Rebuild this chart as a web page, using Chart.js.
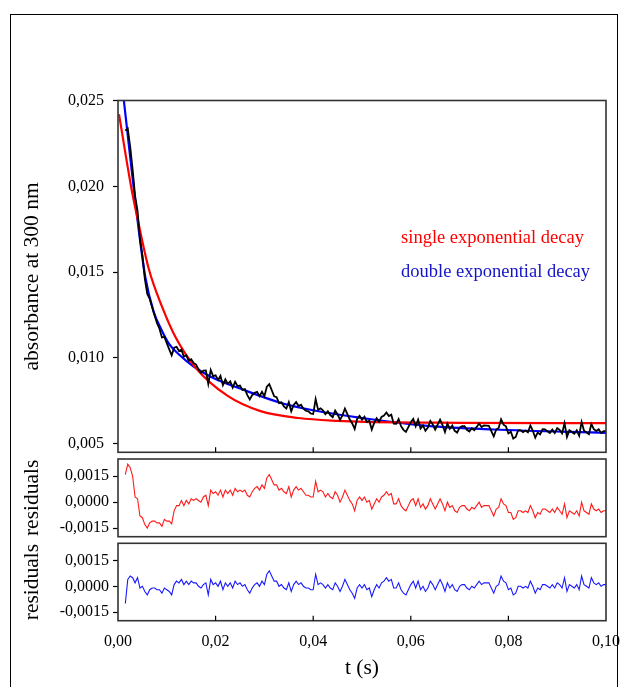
<!DOCTYPE html>
<html>
<head>
<meta charset="utf-8">
<script src="https://cdn.jsdelivr.net/npm/chart.js@4.4.1/dist/chart.umd.min.js"></script>
<style>
  html, body { margin: 0; padding: 0; background: #fff; }
  #figure { position: relative; width: 622px; height: 687px; overflow: hidden; }
  #frame { position: absolute; left: 10px; top: 14px; width: 606px; height: 700px; border: 1px solid #000; }
  canvas { position: absolute; left: 0; top: 0; }
</style>
</head>
<body>
<div id="figure">
  <div id="frame"></div>
  <canvas id="main" width="622" height="687"></canvas>
  <canvas id="res1" width="622" height="687"></canvas>
  <canvas id="res2" width="622" height="687"></canvas>
</div>
<script>
// measured trace (s, absorbance)
const time = [
  0.0015, 0.002, 0.0025, 0.003, 0.0035, 0.004, 0.0045, 0.005, 0.0055, 0.006,
  0.0065, 0.007, 0.0075, 0.008, 0.0085, 0.009, 0.0095, 0.01, 0.0105, 0.011,
  0.0115, 0.012, 0.0125, 0.013, 0.0135, 0.014, 0.0145, 0.015, 0.0155, 0.016,
  0.0165, 0.017, 0.0175, 0.018, 0.0185, 0.019, 0.0195, 0.02, 0.0205, 0.021,
  0.0215, 0.022, 0.0225, 0.023, 0.0235, 0.024, 0.0245, 0.025, 0.0255, 0.026,
  0.0265, 0.027, 0.0275, 0.028, 0.0285, 0.029, 0.0295, 0.03, 0.0305, 0.031,
  0.0315, 0.032, 0.0325, 0.033, 0.0335, 0.034, 0.0345, 0.035, 0.0355, 0.036,
  0.0365, 0.037, 0.0375, 0.038, 0.0385, 0.039, 0.0395, 0.04, 0.0405, 0.041,
  0.0415, 0.042, 0.0425, 0.043, 0.0435, 0.044, 0.0445, 0.045, 0.0455, 0.046,
  0.0465, 0.047, 0.0475, 0.048, 0.0485, 0.049, 0.0495, 0.05, 0.0505, 0.051,
  0.0515, 0.052, 0.0525, 0.053, 0.0535, 0.054, 0.0545, 0.055, 0.0555, 0.056,
  0.0565, 0.057, 0.0575, 0.058, 0.0585, 0.059, 0.0595, 0.06, 0.0605, 0.061,
  0.0615, 0.062, 0.0625, 0.063, 0.0635, 0.064, 0.0645, 0.065, 0.0655, 0.066,
  0.0665, 0.067, 0.0675, 0.068, 0.0685, 0.069, 0.0695, 0.07, 0.0705, 0.071,
  0.0715, 0.072, 0.0725, 0.073, 0.0735, 0.074, 0.0745, 0.075, 0.0755, 0.076,
  0.0765, 0.077, 0.0775, 0.078, 0.0785, 0.079, 0.0795, 0.08, 0.0805, 0.081,
  0.0815, 0.082, 0.0825, 0.083, 0.0835, 0.084, 0.0845, 0.085, 0.0855, 0.086,
  0.0865, 0.087, 0.0875, 0.088, 0.0885, 0.089, 0.0895, 0.09, 0.0905, 0.091,
  0.0915, 0.092, 0.0925, 0.093, 0.0935, 0.094, 0.0945, 0.095, 0.0955, 0.096,
  0.0965, 0.097, 0.0975, 0.098, 0.0985, 0.099, 0.0995, 0.1,
]
const absorbance = [
  0.02324, 0.02337, 0.0223, 0.02097, 0.01944, 0.01858, 0.01693, 0.01597, 0.01461, 0.01373,
  0.01344, 0.01295, 0.01247, 0.01203, 0.0117, 0.01119, 0.01123, 0.01086, 0.0105, 0.01015,
  0.0106, 0.01065, 0.0104, 0.01048, 0.01007, 0.01015, 0.00983, 0.00992, 0.0097, 0.00961,
  0.00933, 0.00914, 0.00926, 0.00927, 0.00849, 0.0093, 0.00894, 0.00898, 0.00872, 0.00896,
  0.00841, 0.00875, 0.00849, 0.00863, 0.00827, 0.00861, 0.00835, 0.00839, 0.00814, 0.00818,
  0.00783, 0.00758, 0.00783, 0.00797, 0.00802, 0.00777, 0.00802, 0.00777, 0.00832, 0.00847,
  0.00812, 0.00776, 0.00771, 0.00736, 0.00741, 0.00718, 0.00705, 0.00742, 0.00689, 0.00726,
  0.00743, 0.0072, 0.00727, 0.00704, 0.00692, 0.00689, 0.00676, 0.00673, 0.0076, 0.00698,
  0.00706, 0.00694, 0.00672, 0.00689, 0.00667, 0.00655, 0.00693, 0.00671, 0.00639, 0.00667,
  0.00705, 0.00673, 0.00641, 0.00618, 0.00586, 0.00644, 0.00662, 0.0064, 0.00658, 0.00626,
  0.00634, 0.00583, 0.00621, 0.00649, 0.00628, 0.00656, 0.00664, 0.00682, 0.00661, 0.00669,
  0.00617, 0.00616, 0.00644, 0.00602, 0.00581, 0.00569, 0.00597, 0.00625, 0.00644, 0.00602,
  0.0064, 0.00589, 0.00607, 0.00575, 0.00594, 0.00633, 0.00612, 0.00582, 0.00611, 0.0064,
  0.00609, 0.00568, 0.00618, 0.00587, 0.00606, 0.00575, 0.00565, 0.00594, 0.00603, 0.00602,
  0.00581, 0.00571, 0.0059, 0.00579, 0.00598, 0.00618, 0.00597, 0.00606, 0.00605, 0.00604,
  0.00574, 0.00543, 0.00583, 0.00592, 0.00642, 0.00611, 0.00601, 0.0056, 0.0057, 0.0053,
  0.00539, 0.00579, 0.00578, 0.00568, 0.00577, 0.00567, 0.00606, 0.00576, 0.00535, 0.00565,
  0.00554, 0.00584, 0.00583, 0.00573, 0.00563, 0.00582, 0.00562, 0.00591, 0.00581, 0.0056,
  0.0062, 0.00539, 0.00579, 0.00568, 0.00558, 0.00578, 0.00547, 0.00627, 0.00576, 0.00566,
  0.00555, 0.00615, 0.00585, 0.00574, 0.00584, 0.00563, 0.00573, 0.00573,
]
// residuals of the single exponential fit
const singleResidual = [
  0.0016, 0.0022, 0.002, 0.0015, 0.0003, 0.0002, -0.0008, -0.0009, -0.0013, -0.0015,
  -0.0012, -0.0011, -0.0011, -0.0012, -0.0012, -0.0014, -0.001, -0.0011, -0.0011, -0.00125,
  -0.0005, -0.0002, -0.0002, 0.0001, -0.0002, 0.0001, -0.0001, 0.0002, 0.0001, 0.0002,
  0.0001, 0, 0.0003, 0.0004, -0.0002, 0.0007, 0.0005, 0.0006, 0.0004, 0.0007,
  0.0003, 0.0007, 0.0005, 0.0007, 0.0004, 0.0008, 0.0006, 0.0007, 0.0006, 0.0007,
  0.0004, 0.0003, 0.0006, 0.0008, 0.0009, 0.0007, 0.001, 0.0008, 0.0014, 0.0016,
  0.0013, 0.001, 0.001, 0.0007, 0.0008, 0.0006, 0.0005, 0.0009, 0.0003, 0.0007,
  0.0009, 0.0007, 0.0008, 0.0006, 0.0004, 0.0004, 0.0003, 0.0003, 0.0012, 0.0006,
  0.0007, 0.0006, 0.0003, 0.0005, 0.0003, 0.0002, 0.0006, 0.0004, 0, 0.0003,
  0.0007, 0.0004, 0.0001, -0.0001, -0.0005, 0.0001, 0.0003, 0.0001, 0.0003, 0,
  0.0001, -0.0004, -0.0001, 0.0002, 0, 0.0003, 0.0004, 0.0006, 0.0004, 0.0005,
  -0.0001, -0.0001, 0.0002, -0.0002, -0.0004, -0.0005, -0.0002, 0.0001, 0.0002, -0.0002,
  0.0002, -0.0003, -0.0001, -0.0004, -0.0002, 0.0002, -0.0001, -0.0004, -0.0001, 0.0002,
  -0.0001, -0.0005, 0, -0.0003, -0.0002, -0.0005, -0.0006, -0.0003, -0.0002, -0.0002,
  -0.0004, -0.0005, -0.0003, -0.0004, -0.0002, 0, -0.0003, -0.0002, -0.0002, -0.0002,
  -0.0005, -0.0008, -0.0004, -0.0003, 0.0002, -0.0001, -0.0002, -0.0006, -0.0006, -0.001,
  -0.0009, -0.0005, -0.0005, -0.0006, -0.0005, -0.0006, -0.0002, -0.0005, -0.0009, -0.0006,
  -0.0007, -0.0004, -0.0004, -0.0005, -0.0006, -0.0004, -0.0006, -0.0003, -0.0005, -0.0007,
  -0.0001, -0.0009, -0.0005, -0.0006, -0.0007, -0.0005, -0.0008, 0, -0.0005, -0.0006,
  -0.0007, -0.0001, -0.0004, -0.0005, -0.0004, -0.0006, -0.0005, -0.0005,
]
// residuals of the double exponential fit
const doubleResidual = [
  -0.001, 0.0004, 0.0006, 0.0005, 0.0002, 0.0005, -0.0001, 0, -0.0003, -0.0005,
  -0.0002, -0.0001, -0.0001, -0.0002, -0.0002, -0.0004, -0.0001, -0.0002, -0.0003, -0.0005,
  0.0001, 0.0003, 0.0002, 0.0004, 0.0001, 0.0003, 0.0001, 0.0003, 0.0002, 0.0002,
  0, -0.0001, 0.0001, 0.0002, -0.0005, 0.0004, 0.0001, 0.0002, 0, 0.0003,
  -0.0002, 0.0002, 0, 0.0002, -0.0001, 0.0003, 0.0001, 0.0002, 0, 0.0001,
  -0.0002, -0.0004, -0.0001, 0.0001, 0.0002, 0, 0.0003, 0.0001, 0.0007, 0.0009,
  0.0006, 0.0003, 0.0003, 0, 0.0001, -0.0001, -0.0002, 0.0002, -0.0003, 0.0001,
  0.0003, 0.0001, 0.0002, 0, -0.0001, -0.0001, -0.0002, -0.0002, 0.0007, 0.0001,
  0.0002, 0.0001, -0.0001, 0.0001, -0.0001, -0.0002, 0.0002, 0, -0.0003, 0,
  0.0004, 0.0001, -0.0002, -0.0004, -0.0007, -0.0001, 0.0001, -0.0001, 0.0001, -0.0002,
  -0.0001, -0.0006, -0.0002, 0.0001, -0.0001, 0.0002, 0.0003, 0.0005, 0.0003, 0.0004,
  -0.0001, -0.0001, 0.0002, -0.0002, -0.0004, -0.0005, -0.0002, 0.0001, 0.0003, -0.0001,
  0.0003, -0.0002, 0, -0.0003, -0.0001, 0.0003, 0.0001, -0.0002, 0.0001, 0.0004,
  0.0001, -0.0003, 0.0002, -0.0001, 0.0001, -0.0002, -0.0003, 0, 0.0001, 0.0001,
  -0.0001, -0.0002, 0, -0.0001, 0.0001, 0.0003, 0.0001, 0.0002, 0.0002, 0.0002,
  -0.0001, -0.0004, 0, 0.0001, 0.0006, 0.0003, 0.0002, -0.0002, -0.0001, -0.0005,
  -0.0004, 0, 0, -0.0001, 0, -0.0001, 0.0003, 0, -0.0004, -0.0001,
  -0.0002, 0.0001, 0.0001, 0, -0.0001, 0.0001, -0.0001, 0.0002, 0.0001, -0.0001,
  0.0005, -0.0003, 0.0001, 0, -0.0001, 0.0001, -0.0002, 0.0006, 0.0001, 0,
  -0.0001, 0.0005, 0.0002, 0.0001, 0.0002, 0, 0.0001, 0.0001,
]
// fitted curves
const singleFitTime = [0.0002, 0.0028, 0.0038, 0.0063, 0.009, 0.0118, 0.016, 0.0224, 0.0292, 0.037, 0.045, 0.0507, 0.07, 0.1]
const singleFit = [0.0242, 0.0198, 0.0184, 0.0152, 0.013, 0.0112, 0.0094, 0.0078, 0.0069, 0.0065, 0.00633, 0.00627, 0.00622, 0.0062]
const doubleFitTime = [0.0012, 0.0025, 0.0038, 0.0056, 0.0073, 0.0088, 0.0105, 0.0125, 0.0155, 0.019, 0.0258, 0.0336, 0.0405, 0.0507, 0.0634, 0.077, 0.1]
const doubleFit = [0.025, 0.0217, 0.0185, 0.0147, 0.0127, 0.0117, 0.0108, 0.0102, 0.0095, 0.0089, 0.00813, 0.00736, 0.00692, 0.00647, 0.00604, 0.00583, 0.00563]

const xTicks = [0, 0.02, 0.04, 0.06, 0.08, 0.1]
const absTicks = [0.005, 0.01, 0.015, 0.02, 0.025]
const residualTicks = [-0.0015, 0, 0.0015]

const legendLabels = ['single exponential decay', 'double exponential decay']
const legendColors = ['#ff0000', '#1414c8']
const legendX = 0.058
const legendY = [0.017, 0.015]

const serif = '"Liberation Serif", "Times New Roman", serif'
Chart.defaults.font.family = serif
Chart.defaults.color = '#000'

const toPoints = (xs, ys) => xs.map((x, i) => ({ x, y: ys[i] }))
const comma = (v, digits) => v.toFixed(digits).replace('.', ',')

// box round the plot area, with short inward ticks on the time axis
const framePlugin = {
  id: 'panelFrame',
  afterDatasetsDraw(chart, args, opts) {
    const { ctx, chartArea: a } = chart
    ctx.save()
    ctx.strokeStyle = '#333'
    ctx.lineWidth = 1.6
    ctx.strokeRect(a.left, a.top, a.right - a.left, a.bottom - a.top)
    if (opts.innerTicks) {
      const xs = chart.scales.x
      ctx.lineWidth = 1.2
      ctx.strokeStyle = '#000'
      ctx.beginPath()
      xTicks.slice(1, -1).forEach((v) => {
        const px = xs.getPixelForValue(v)
        ctx.moveTo(px, a.bottom)
        ctx.lineTo(px, a.bottom - 5)
      })
      ctx.stroke()
    }
    ctx.restore()
  },
}

const legendPlugin = {
  id: 'fitLegend',
  afterDatasetsDraw(chart) {
    const { ctx, scales: { x, y } } = chart
    ctx.save()
    ctx.font = `18.5px ${serif}`
    ctx.textBaseline = 'middle'
    legendLabels.forEach((label, i) => {
      ctx.fillStyle = legendColors[i]
      ctx.fillText(label, x.getPixelForValue(legendX), y.getPixelForValue(legendY[i]))
    })
    ctx.restore()
  },
}

// the page layout is fixed, so label overflow must not shrink the plot area
const noPadding = (s) => {
  s.paddingLeft = 0
  s.paddingRight = 0
  s.paddingTop = 0
  s.paddingBottom = 0
}

function yAxis(min, max, ticks, digits, title, labelPad) {
  return {
    min,
    max,
    afterBuildTicks: (s) => { s.ticks = ticks.map((value) => ({ value })) },
    afterFit: (s) => {
      s.width = 118
      noPadding(s)
    },
    grid: { drawOnChartArea: false, drawTicks: true, tickLength: 5, tickColor: '#000', tickWidth: 1.2 },
    border: { display: false },
    ticks: { padding: labelPad, font: { size: 16 }, callback: (v) => comma(v, digits) },
    title: { display: true, text: title, font: { size: 21.5 }, padding: { top: 19, bottom: 0 } },
  }
}

const hiddenX = { type: 'linear', min: 0, max: 0.1, display: false }

function baseOptions(padding, scales, innerTicks) {
  return {
    responsive: false,
    animation: false,
    events: [],
    layout: { padding },
    plugins: { legend: { display: false }, tooltip: { enabled: false }, panelFrame: { innerTicks } },
    scales,
  }
}

const lineStyle = { pointRadius: 0, fill: false }

new Chart(document.getElementById('main'), {
  type: 'line',
  data: {
    datasets: [
      { ...lineStyle, data: toPoints(time, absorbance), borderColor: '#000', borderWidth: 1.8, tension: 0 },
      { ...lineStyle, data: toPoints(singleFitTime, singleFit), borderColor: '#ff0000', borderWidth: 2.2, cubicInterpolationMode: 'monotone' },
      { ...lineStyle, data: toPoints(doubleFitTime, doubleFit), borderColor: '#0000ff', borderWidth: 2.2, cubicInterpolationMode: 'monotone' },
    ],
  },
  options: baseOptions({ top: 100.5, bottom: 234.7, left: 0, right: 16 }, {
    x: hiddenX,
    y: yAxis(0.0045, 0.025, absTicks, 3, 'absorbance at 300 nm', 9),
  }, true),
  plugins: [framePlugin, legendPlugin],
})

new Chart(document.getElementById('res1'), {
  type: 'line',
  data: {
    datasets: [
      { ...lineStyle, data: toPoints(time, singleResidual), borderColor: '#ff1a1a', borderWidth: 1.1, tension: 0 },
    ],
  },
  options: baseOptions({ top: 459, bottom: 150.3, left: 0, right: 16 }, {
    x: hiddenX,
    y: yAxis(-0.002, 0.0025, residualTicks, 4, 'residuals', 4),
  }, false),
  plugins: [framePlugin],
})

new Chart(document.getElementById('res2'), {
  type: 'line',
  data: {
    datasets: [
      { ...lineStyle, data: toPoints(time, doubleResidual), borderColor: '#1a1aff', borderWidth: 1.1, tension: 0 },
    ],
  },
  options: baseOptions({ top: 543.3, bottom: 0, left: 0, right: 16 }, {
    x: {
      type: 'linear',
      min: 0,
      max: 0.1,
      afterBuildTicks: (s) => { s.ticks = xTicks.map((value) => ({ value })) },
      afterFit: (s) => {
        s.height = 66.3
        noPadding(s)
      },
      grid: { display: false, drawTicks: false },
      border: { display: false },
      ticks: { padding: 11.4, font: { size: 16 }, maxRotation: 0, autoSkip: false, callback: (v) => comma(v, 2) },
      title: { display: true, text: 't (s)', font: { size: 21.5 }, padding: { top: 0, bottom: 6 } },
    },
    y: yAxis(-0.002, 0.0025, residualTicks, 4, 'residuals', 4),
  }, true),
  plugins: [framePlugin],
})
</script>
</body>
</html>
